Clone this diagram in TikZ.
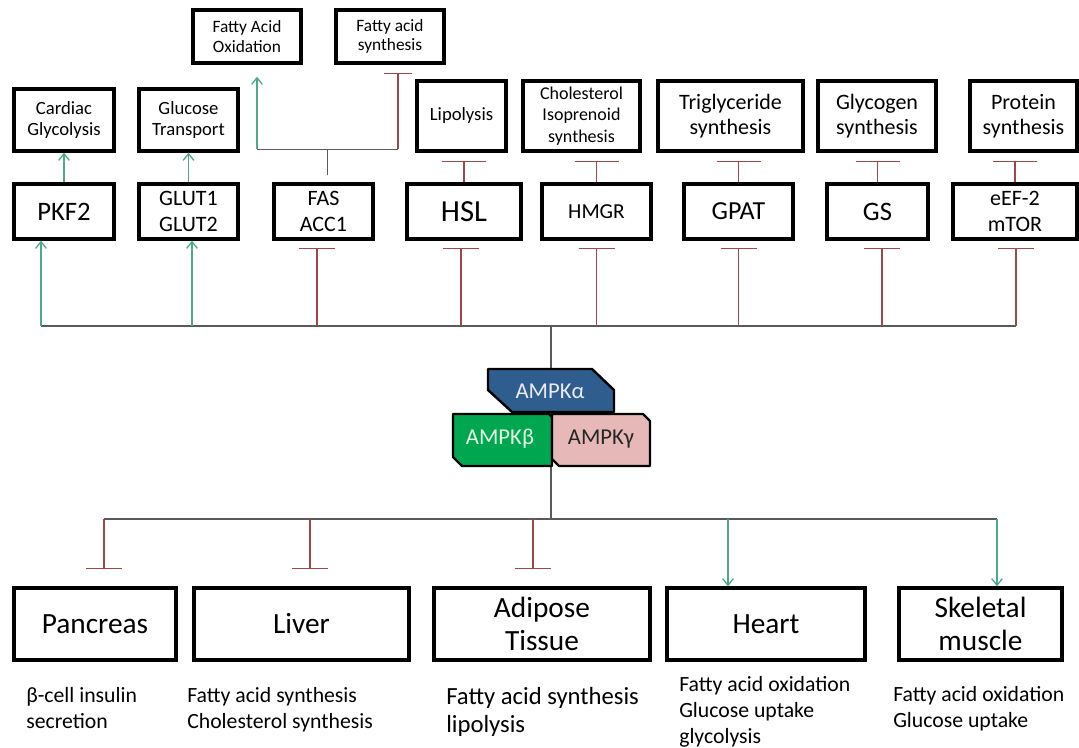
\documentclass[tikz,border=0pt]{standalone}
\usepackage{fontspec}
\setmainfont{Carlito}
\usepackage{tikz}
\usetikzlibrary{arrows.meta, calc}
\definecolor{actGreen}{HTML}{4BAA8C}
\definecolor{inhRed}{HTML}{A0464B}
\definecolor{busGray}{HTML}{5A5A5A}
\definecolor{ampkBlue}{HTML}{2F5D8E}
\definecolor{ampkGreen}{HTML}{00A650}
\definecolor{ampkPink}{HTML}{E6B8B7}
\newcommand{\fs}[2]{\fontsize{#1}{#2}\selectfont}

\begin{document}
\begin{tikzpicture}[x=0.75pt, y=-0.75pt,
    box/.style={draw, line width=2.5pt, align=center, inner sep=0pt},
    link/.style={busGray, line width=1pt},
    act/.style={actGreen, line width=1pt, -{Straight Barb[length=5pt,width=8pt]}},
    inh/.style={inhRed, line width=1pt, -{Bar[width=#1]}},
    inh/.default=27pt,
    note/.style={anchor=base west, align=left, inner sep=0pt},
    sub/.style={draw, line width=1.8pt, line join=round}]
    \useasboundingbox (0,0) rectangle (1079,748);
    % --- processes (top rows) ---
    \node[box, minimum width=81pt, minimum height=39.75pt, font=\fs{13}{14.5}] (fao) at (247,36.5) {Fatty Acid\\Oxidation};
    \node[box, minimum width=81pt, minimum height=39.75pt, font=\fs{13}{14.5}] (fasyn) at (390,36.5) {Fatty acid\\synthesis};
    \node[box, minimum width=75pt, minimum height=46.5pt, font=\fs{14}{16.3}] (cardiac) at (64,120) {Cardiac\\Glycolysis};
    \node[box, minimum width=74.25pt, minimum height=46.5pt, font=\fs{14}{16.3}] (glutr) at (188.5,120) {Glucose\\Transport};
    \node[box, minimum width=66.75pt, minimum height=52.5pt, font=\fs{14}{16.3}] (lipo) at (461.5,116) {Lipolysis};
    \node[box, minimum width=87.75pt, minimum height=52.5pt, font=\fs{13.5}{16.3}] (chol) at (581.5,116) {Cholesterol\\Isoprenoid\\synthesis};
    \node[box, minimum width=108.75pt, minimum height=52.5pt, font=\fs{16.5}{18.75}] (trig) at (730.5,116) {Triglyceride\\synthesis};
    \node[box, minimum width=88.5pt, minimum height=52.5pt, font=\fs{16.5}{18.75}] (glyc) at (877,116) {Glycogen\\synthesis};
    \node[box, minimum width=80.25pt, minimum height=52.5pt, font=\fs{16.5}{18.75}] (prot) at (1023.5,116) {Protein\\synthesis};
    % --- targets ---
    \node[box, minimum width=75pt, minimum height=41.25pt, font=\fs{20}{22}] (pkf) at (64,211.5) {PKF2};
    \node[box, minimum width=74.25pt, minimum height=41.25pt, font=\fs{16.5}{20}] (glut) at (188.5,211.5) {GLUT1\\GLUT2};
    \node[box, minimum width=74.25pt, minimum height=41.25pt, font=\fs{16.5}{20}] (fas) at (323.5,211.5) {FAS\\ACC1};
    \node[box, minimum width=85.5pt, minimum height=41.25pt, font=\fs{23}{25}] (hsl) at (464,211.5) {HSL};
    \node[box, minimum width=81.75pt, minimum height=41.25pt, font=\fs{16}{18}] (hmgr) at (596.5,211.5) {HMGR};
    \node[box, minimum width=81.75pt, minimum height=41.25pt, font=\fs{19.5}{22}] (gpat) at (738.5,211.5) {GPAT};
    \node[box, minimum width=75.75pt, minimum height=41.25pt, font=\fs{20}{22}] (gs) at (877.5,211.5) {GS};
    \node[box, minimum width=93pt, minimum height=41.25pt, font=\fs{16.5}{20}] (eef) at (1015,211.5) {eEF-2\\mTOR};
    % --- tissues ---
    \node[box, minimum width=121.5pt, minimum height=54pt, font=\fs{22}{24.5}] (pancreas) at (95,624) {Pancreas};
    \node[box, minimum width=161.25pt, minimum height=54pt, font=\fs{22}{24.5}] (liver) at (301.5,624) {Liver};
    \node[box, minimum width=162pt, minimum height=54pt, font=\fs{22}{24.5}] (adipose) at (542,624) {Adipose\\Tissue};
    \node[box, minimum width=148.5pt, minimum height=54pt, font=\fs{22}{24.5}] (heart) at (766,624) {Heart};
    \node[box, minimum width=122.25pt, minimum height=54pt, font=\fs{22}{24.5}] (skeletal) at (980.5,624) {Skeletal\\muscle};
    % descriptions: anchored at the baseline of their last line
    \node[note, font=\fs{16.3}{19.5}] (pandesc) at (26,728) {β-cell insulin\\secretion};
    \node[note, font=\fs{16.3}{19.5}] (livdesc) at (187,728) {Fatty acid synthesis\\Cholesterol synthesis};
    \node[note, font=\fs{18.5}{21}] (adidesc) at (446,732) {Fatty acid synthesis\\lipolysis};
    \node[note, font=\fs{16.3}{19.5}] (headesc) at (679,743) {Fatty acid oxidation\\Glucose uptake\\glycolysis};
    \node[note, font=\fs{16.3}{19.5}] (skedesc) at (893,727) {Fatty acid oxidation\\Glucose uptake};
    % --- target -> process ---
    \draw[act] (pkf.north) -- (cardiac.south);
    \draw[act] (glut.north) -- (glutr.south);
    \foreach \a/\b in {hsl/lipo, hmgr/chol, gpat/trig, gs/glyc, eef/prot}
      \draw[inh=33pt] (\a.north) -- ($(\a.north |- \b.south)+(0,8)$);
    \coordinate (fork) at ($(fas.north)+(4,-33)$);
    \draw[link] ($(fas.north)+(4,-7)$) -- (fork);
    \draw[link] ($(fork)+(-70.5,0)$) coordinate (forkL) -- ($(fork)+(70.5,0)$) coordinate (forkR);
    \draw[act] (forkL) -- ($(forkL |- fao.south)+(0,12)$);
    \draw[inh=21pt] (forkR) -- ($(forkR |- fasyn.south)+(0,8)$);
    % --- AMPK -> targets and tissues ---
    \coordinate (hubU) at (551,326);
    \coordinate (hubD) at (551,519);
    \draw[link] (hubU) -- (hubD);
    \draw[link] ($(pkf.south |- hubU)+(-23,0)$) -- ($(eef.south |- hubU)+(1,0)$);
    \foreach \n/\dx in {pkf/-23, glut/3.5}
      \draw[act] ($(\n.south |- hubU)+(\dx,0)$) -- ($(\n.south)+(\dx,0)$);
    \foreach \n/\dx in {fas/-6.5, hsl/-3, hmgr/0, gpat/0, gs/4.5, eef/1}
      \draw[inh] ($(\n.south |- hubU)+(\dx,0)$) -- ($(\n.south)+(\dx,7)$);
    \draw[link] ($(pancreas.north |- hubD)+(9,0)$) -- ($(skeletal.north |- hubD)+(16.5,0)$);
    \foreach \n/\dx in {pancreas/9, liver/8.5, adipose/-9}
      \draw[inh] ($(\n.north |- hubD)+(\dx,0)$) -- ($(\n.north)+(\dx,-17)$);
    \foreach \n/\dx in {heart/-38, skeletal/16.5}
      \draw[act] ($(\n.north |- hubD)+(\dx,0)$) -- ($(\n.north)+(\dx,0)$);
    % --- AMPK subunits ---
    \draw[sub, fill=ampkBlue] (488,369) -- (592,369) -- (614,390) -- (614,412) -- (512,412) -- (488,390) -- cycle;
    \draw[sub, fill=ampkGreen] (453,414) -- (549,414) -- (552,417) -- (552,466) -- (462,466) -- (453,457) -- cycle;
    \draw[sub, fill=ampkPink] (552,414) -- (643,414) -- (650,421) -- (650,466) -- (559,466) -- (552,459) -- cycle;
    \node[font=\fs{17}{19}, text=blue!8] (ampka) at (550,391) {AMPKα};
    \node[font=\fs{17}{19}, text=green!10] (ampkb) at (500,439) {AMPKβ};
    \node[font=\fs{17}{19}, text=black!85] (ampkg) at (601,439) {AMPKγ};
\end{tikzpicture}
\end{document}
